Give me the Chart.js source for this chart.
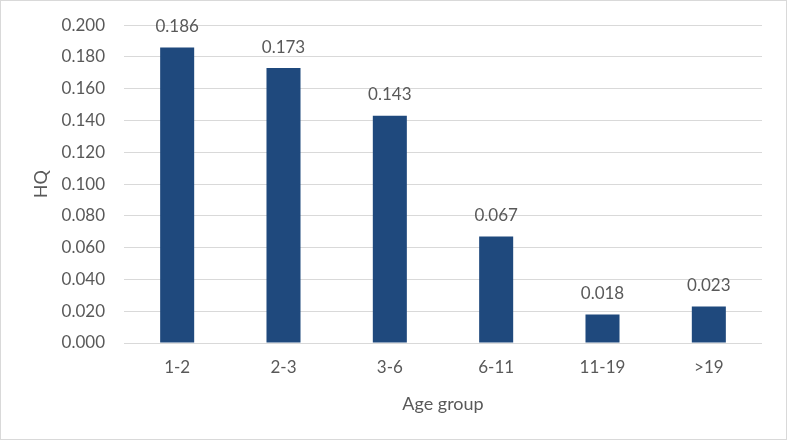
<!DOCTYPE html>
<html>
<head>
<meta charset="utf-8">
<script src="https://cdn.jsdelivr.net/npm/chart.js@4.4.0/dist/chart.umd.min.js"></script>
<style>
  html, body { margin: 0; padding: 0; background: #fff; }
  #wrap { width: 787px; height: 440px; box-sizing: border-box; border: 1px solid #d9d9d9; position: relative; }
</style>
</head>
<body>
<div id="wrap"><canvas id="hqChart" width="785" height="438"></canvas></div>
<script>
const ageGroups = ["1-2", "2-3", "3-6", "6-11", "11-19", ">19"];
const hqValues = [0.186, 0.173, 0.143, 0.067, 0.018, 0.023];
const yTicks = [0, 0.02, 0.04, 0.06, 0.08, 0.1, 0.12, 0.14, 0.16, 0.18, 0.2];

const textColor = "#595959";
const fontFamily = "Lato, 'Open Sans', sans-serif";

// value labels above bars
const barLabels = {
  id: "barLabels",
  afterDatasetsDraw(chart) {
    const ctx = chart.ctx;
    const meta = chart.getDatasetMeta(0);
    ctx.save();
    ctx.fillStyle = textColor;
    ctx.font = "17px " + fontFamily;
    ctx.textAlign = "center";
    ctx.textBaseline = "middle";
    meta.data.forEach(function (bar, i) {
      ctx.fillText(hqValues[i].toFixed(3), bar.x, bar.y - 21);
    });
    ctx.restore();
  }
};

const ctx = document.getElementById("hqChart").getContext("2d");
new Chart(ctx, {
  type: "bar",
  data: {
    labels: ageGroups,
    datasets: [{
      label: "HQ",
      data: hqValues,
      backgroundColor: "#1f497d",
      barPercentage: 0.32,
      categoryPercentage: 1.0
    }]
  },
  options: {
    responsive: false,
    animation: false,
    layout: { padding: { top: 16, right: 24, left: 20, bottom: 24 } },
    plugins: {
      legend: { display: false },
      tooltip: { enabled: false }
    },
    scales: {
      x: {
        grid: { display: false },
        border: { display: false },
        ticks: { color: textColor, font: { family: fontFamily, size: 17 }, padding: 6 },
        title: {
          display: true,
          text: "Age group",
          color: textColor,
          font: { family: fontFamily, size: 18 },
          padding: { top: 8, bottom: 0 }
        },
        afterFit(scale) { scale.height = 72; }
      },
      y: {
        min: 0,
        max: 0.2,
        afterBuildTicks(scale) { scale.ticks = yTicks.map(v => ({ value: v })); },
        grid: { color: "#d9d9d9", lineWidth: 1, drawTicks: true, tickLength: 5, tickColor: "rgba(0,0,0,0)" },
        border: { display: false },
        ticks: {
          color: textColor,
          font: { family: fontFamily, size: 17 },
          padding: 14,
          callback: v => Number(v).toFixed(3)
        },
        title: {
          display: true,
          text: "HQ",
          color: textColor,
          font: { family: fontFamily, size: 18 },
          padding: { top: 9, bottom: 0 }
        },
        afterFit(scale) { scale.width = 103; }
      }
    }
  },
  plugins: [barLabels]
});
</script>
</body>
</html>
